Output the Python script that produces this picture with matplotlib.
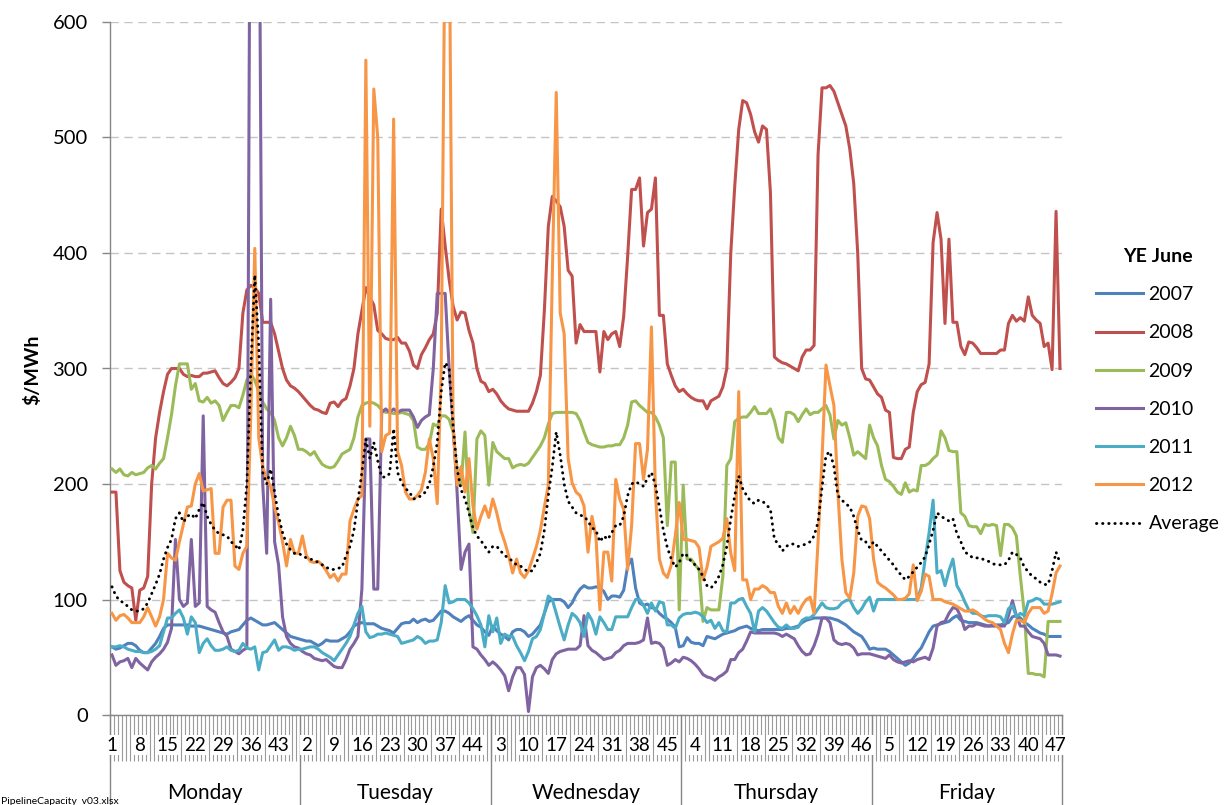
import numpy as np
import matplotlib
matplotlib.use("Agg")
import matplotlib.pyplot as plt
from matplotlib.transforms import blended_transform_factory

plt.rcParams['font.family'] = ['Lato', 'DejaVu Sans']

days = ["Monday", "Tuesday", "Wednesday", "Thursday", "Friday"]
periods_per_day = 48
series_names = ["2007", "2008", "2009", "2010", "2011", "2012", "Average"]

y2007 = [
    59, 57, 58, 60, 62, 62, 60, 56, 54, 54, 58, 62, 68, 75, 78, 78, 78, 78, 78, 78, 77, 77, 77, 76,
    75, 74, 73, 72, 71, 70, 72, 73, 74, 78, 82, 84, 82, 80, 78, 78, 79, 80, 77, 74, 71, 68, 67, 66,
    65, 64, 64, 62, 60, 62, 65, 64, 64, 64, 66, 68, 72, 77, 79, 80, 79, 79, 79, 77, 75, 74, 73, 71,
    75, 79, 80, 80, 83, 80, 82, 83, 81, 82, 86, 90, 90, 88, 85, 83, 81, 84, 86, 82, 78, 76, 72, 69,
    77, 73, 70, 68, 65, 72, 74, 74, 72, 68, 70, 74, 78, 88, 98, 100, 100, 100, 98, 93, 97, 104, 109, 112,
    110, 110, 111, 110, 107, 100, 103, 103, 102, 108, 129, 135, 110, 97, 95, 96, 93, 92, 88, 85, 83, 80, 76, 59,
    60, 67, 63, 62, 62, 60, 68, 67, 66, 68, 70, 71, 72, 73, 75, 76, 77, 75, 74, 73, 74, 74, 74, 74,
    74, 74, 75, 75, 76, 77, 80, 82, 83, 84, 84, 84, 84, 84, 83, 82, 80, 78, 75, 72, 70, 68, 63, 57,
    58, 57, 57, 57, 55, 52, 49, 46, 43, 45, 49, 54, 58, 65, 72, 77, 78, 79, 80, 81, 84, 86, 82, 81,
    80, 80, 80, 79, 78, 77, 78, 78, 78, 79, 80, 85, 86, 84, 80, 78, 75, 73, 71, 70, 68, 68, 68, 68,
]

y2008 = [
    193, 193, 125, 115, 112, 110, 82, 108, 110, 120, 200, 240, 262, 280, 295, 300, 300, 300, 295, 293, 294, 293, 293, 296,
    296, 297, 298, 292, 287, 285, 288, 292, 300, 348, 368, 372, 370, 365, 340, 340, 340, 330, 315, 300, 290, 285, 283, 280,
    276, 272, 268, 265, 264, 262, 261, 270, 271, 267, 272, 274, 285, 300, 330, 350, 370, 362, 355, 333, 330, 326, 325, 325,
    327, 322, 322, 315, 303, 300, 312, 318, 325, 330, 348, 438, 406, 377, 354, 342, 349, 348, 333, 322, 300, 289, 287, 280,
    282, 278, 272, 268, 265, 264, 263, 263, 263, 263, 270, 280, 294, 350, 423, 449, 445, 440, 423, 385, 380, 322, 338, 332,
    332, 332, 332, 297, 332, 325, 330, 332, 319, 345, 397, 455, 455, 465, 406, 435, 438, 465, 346, 346, 304, 294, 285, 280,
    282, 278, 275, 273, 272, 272, 265, 272, 274, 276, 284, 300, 400, 458, 507, 532, 530, 520, 505, 496, 510, 507, 452, 310,
    307, 305, 304, 302, 300, 298, 310, 316, 316, 320, 485, 543, 543, 545, 540, 530, 520, 510, 490, 460, 400, 300, 291, 290,
    284, 278, 275, 264, 262, 223, 222, 222, 230, 232, 262, 280, 286, 288, 304, 409, 435, 412, 339, 412, 340, 340, 319, 312,
    323, 322, 318, 313, 313, 313, 313, 313, 316, 316, 339, 346, 341, 344, 341, 362, 346, 342, 339, 319, 322, 299, 436, 300,
]

y2009 = [
    213, 210, 213, 208, 207, 210, 208, 209, 210, 214, 216, 213, 218, 222, 240, 260, 285, 304, 304, 304, 282, 287, 272, 271,
    275, 270, 272, 268, 255, 262, 268, 268, 266, 277, 290, 295, 290, 280, 271, 265, 262, 255, 240, 233, 240, 250, 242, 230,
    230, 228, 225, 228, 222, 217, 215, 214, 215, 220, 226, 228, 230, 240, 258, 268, 270, 271, 270, 268, 264, 262, 262, 261,
    261, 262, 261, 260, 255, 232, 230, 230, 235, 252, 250, 259, 259, 256, 245, 213, 199, 245, 178, 158, 239, 246, 242, 199,
    236, 228, 225, 222, 222, 214, 216, 217, 216, 218, 223, 228, 233, 240, 252, 261, 262, 262, 262, 262, 262, 261, 255, 245,
    236, 234, 233, 232, 232, 233, 233, 234, 234, 240, 251, 271, 272, 268, 265, 262, 262, 258, 251, 240, 164, 219, 219, 91,
    199, 135, 135, 130, 126, 81, 93, 91, 91, 91, 120, 216, 222, 254, 257, 258, 258, 262, 267, 261, 261, 261, 265, 255,
    240, 236, 262, 262, 260, 254, 260, 265, 260, 262, 262, 265, 268, 260, 239, 255, 251, 253, 240, 225, 228, 225, 222, 251,
    240, 233, 216, 204, 202, 198, 193, 191, 201, 193, 195, 194, 216, 216, 218, 222, 225, 246, 240, 229, 228, 228, 175, 172,
    164, 163, 163, 157, 165, 164, 165, 164, 138, 165, 165, 162, 155, 120, 88, 36, 36, 35, 35, 33, 81, 81, 81, 81,
]

y2010 = [
    52, 43, 46, 47, 49, 41, 49, 45, 42, 39, 46, 50, 53, 57, 63, 75, 152, 100, 94, 97, 152, 94, 97, 259,
    94, 91, 89, 80, 72, 68, 57, 55, 53, 56, 58, 900, 1100, 800, 200, 140, 360, 150, 130, 85, 68, 62, 59, 58,
    55, 53, 52, 49, 48, 47, 48, 45, 42, 41, 41, 48, 57, 62, 68, 109, 239, 239, 109, 109, 262, 265, 262, 265,
    262, 264, 264, 264, 258, 249, 255, 258, 260, 300, 365, 365, 365, 300, 251, 193, 126, 141, 148, 59, 57, 52, 48, 43,
    46, 43, 39, 34, 21, 33, 41, 41, 35, 3, 33, 41, 43, 40, 36, 48, 53, 55, 56, 57, 57, 57, 60, 86,
    60, 56, 54, 51, 48, 49, 50, 54, 56, 60, 62, 62, 62, 63, 65, 84, 62, 63, 62, 58, 43, 45, 48, 46,
    50, 49, 47, 44, 40, 35, 33, 32, 30, 33, 35, 38, 48, 48, 54, 57, 64, 72, 71, 71, 71, 71, 71, 71,
    70, 68, 70, 68, 66, 60, 55, 52, 53, 60, 70, 84, 84, 80, 65, 62, 61, 62, 61, 58, 52, 53, 53, 53,
    52, 51, 50, 49, 52, 48, 46, 45, 46, 47, 46, 48, 49, 50, 48, 58, 77, 80, 81, 88, 93, 92, 85, 74,
    77, 77, 79, 78, 77, 77, 77, 77, 77, 77, 86, 99, 86, 77, 77, 72, 68, 67, 66, 62, 52, 52, 52, 51,
]

y2011 = [
    59, 59, 60, 59, 57, 56, 55, 55, 54, 54, 55, 57, 60, 72, 84, 84, 88, 91, 84, 70, 85, 80, 54, 62,
    66, 60, 56, 56, 57, 59, 56, 55, 56, 62, 58, 57, 59, 39, 54, 55, 60, 65, 56, 59, 59, 58, 56, 57,
    57, 58, 59, 59, 57, 54, 52, 50, 47, 52, 57, 62, 68, 78, 88, 94, 72, 67, 68, 70, 70, 71, 70, 69,
    68, 62, 63, 64, 65, 68, 66, 62, 64, 64, 65, 80, 112, 97, 98, 100, 100, 100, 97, 92, 86, 78, 59, 86,
    72, 84, 62, 70, 68, 68, 60, 54, 47, 55, 66, 68, 74, 88, 103, 100, 88, 76, 65, 78, 88, 85, 80, 68,
    88, 82, 70, 85, 80, 74, 74, 85, 85, 85, 85, 93, 100, 100, 95, 88, 97, 90, 98, 97, 78, 78, 75, 84,
    87, 88, 88, 89, 88, 85, 80, 82, 75, 80, 73, 72, 97, 97, 100, 101, 94, 88, 72, 90, 93, 90, 85, 80,
    76, 75, 78, 75, 75, 76, 82, 84, 84, 87, 92, 97, 93, 92, 92, 93, 97, 99, 100, 93, 88, 92, 98, 102,
    90, 100, 100, 100, 100, 100, 100, 100, 100, 100, 100, 100, 110, 135, 158, 186, 123, 125, 112, 125, 135, 112, 106, 98,
    91, 88, 88, 86, 85, 86, 86, 86, 85, 80, 92, 95, 85, 88, 86, 98, 99, 101, 100, 96, 96, 96, 97, 98,
]

y2012 = [
    88, 82, 86, 87, 84, 80, 80, 80, 85, 93, 85, 77, 85, 100, 140, 136, 134, 150, 165, 180, 181, 200, 209, 194,
    195, 196, 140, 140, 180, 186, 186, 129, 126, 140, 146, 260, 404, 240, 215, 204, 198, 180, 167, 150, 129, 152, 140, 140,
    155, 138, 133, 132, 133, 130, 125, 119, 122, 116, 122, 122, 168, 178, 187, 190, 567, 250, 542, 500, 228, 242, 244, 516,
    228, 216, 193, 187, 187, 190, 195, 210, 239, 222, 183, 300, 700, 700, 250, 199, 215, 193, 222, 181, 161, 172, 181, 171,
    187, 175, 160, 150, 138, 123, 135, 123, 119, 125, 135, 146, 160, 180, 199, 380, 539, 348, 330, 222, 201, 193, 190, 181,
    141, 172, 155, 91, 141, 141, 116, 204, 187, 178, 126, 164, 235, 235, 204, 230, 336, 193, 135, 123, 119, 130, 155, 184,
    152, 152, 151, 150, 145, 117, 128, 146, 148, 150, 153, 170, 140, 125, 280, 117, 117, 100, 109, 109, 112, 110, 106, 106,
    94, 88, 97, 88, 94, 88, 95, 100, 102, 88, 150, 222, 303, 285, 268, 193, 135, 106, 101, 123, 172, 181, 180, 170,
    135, 115, 112, 110, 107, 104, 100, 100, 101, 105, 130, 99, 107, 122, 120, 100, 100, 100, 98, 97, 96, 94, 92, 90,
    90, 91, 89, 86, 83, 81, 80, 77, 74, 62, 54, 70, 82, 82, 80, 88, 93, 93, 93, 88, 90, 105, 123, 129,
]

y_avg = [
    111, 103, 99, 97, 94, 91, 90, 90, 92, 97, 105, 113, 122, 135, 145, 152, 170, 175, 167, 172, 174, 170, 178, 184,
    172, 165, 160, 157, 156, 155, 150, 147, 143, 160, 200, 300, 381, 320, 210, 200, 213, 193, 172, 158, 148, 143, 140, 140,
    138, 136, 135, 134, 132, 130, 128, 126, 126, 127, 128, 138, 146, 160, 185, 210, 239, 222, 236, 220, 206, 206, 209, 248,
    210, 201, 196, 193, 187, 188, 190, 193, 200, 215, 236, 280, 305, 300, 250, 213, 195, 187, 175, 162, 155, 151, 146, 141,
    146, 146, 142, 138, 136, 133, 130, 129, 126, 124, 125, 132, 140, 160, 190, 215, 245, 225, 200, 185, 180, 175, 173, 172,
    168, 162, 160, 150, 155, 152, 158, 164, 164, 172, 190, 200, 202, 200, 198, 205, 210, 199, 180, 160, 145, 135, 128, 132,
    140, 138, 133, 130, 126, 120, 112, 110, 114, 120, 130, 146, 170, 190, 207, 196, 190, 185, 183, 186, 185, 182, 178, 152,
    148, 142, 146, 148, 148, 146, 147, 148, 150, 155, 167, 197, 225, 228, 215, 190, 186, 183, 180, 172, 160, 151, 150, 145,
    150, 146, 142, 138, 134, 130, 125, 121, 117, 120, 124, 128, 132, 137, 148, 160, 175, 172, 170, 168, 170, 157, 150, 141,
    139, 136, 136, 136, 134, 133, 131, 130, 130, 130, 134, 141, 139, 136, 128, 124, 120, 118, 115, 113, 113, 125, 141, 132,
]

colors = ["#4F81BD", "#C0504D", "#9BBB59", "#8064A2", "#4BACC6", "#F79646"]

W, H = 1228, 805
fig = plt.figure(figsize=(W / 100, H / 100), dpi=100)
L, R, T, B = 110, 1062, 22, 715
ax = fig.add_axes([L / W, 1 - B / H, (R - L) / W, (B - T) / H])

n = len(days) * periods_per_day
x = np.arange(n) + 0.5

for name, ys, c in zip(series_names[:6], [y2007, y2008, y2009, y2010, y2011, y2012], colors):
    ax.plot(x, ys, color=c, lw=2.2, label=name, solid_joinstyle='round', zorder=3)
ax.plot(x, y_avg, color='black', lw=2.1, linestyle=(0, (0.1, 2.0)), dash_capstyle='round',
        label="Average", zorder=4)

ax.set_xlim(0, n)
ax.set_ylim(0, 600)
ax.set_yticks(range(0, 601, 100))
ax.tick_params(axis='y', labelsize=14.5, length=6, width=1, color='#868686', pad=10, labelcolor='#000000')
ax.grid(axis='y', color='#C4C4C4', linestyle=(0, (6, 4)), lw=1)
ax.set_axisbelow(True)
for s in ['top', 'right']:
    ax.spines[s].set_visible(False)
for s in ['left', 'bottom']:
    ax.spines[s].set_color('#868686')
    ax.spines[s].set_linewidth(1.0)

# category ticks
ax.set_xticks(np.arange(0, n + 1, 1))
ax.set_xticklabels([])
ax.tick_params(axis='x', length=33, width=0.8, color='#9A9A9A', direction='out')

tr = blended_transform_factory(ax.transData, ax.transAxes)
lab_y = -(745 - B) / (B - T)
for i in range(0, n, 7):
    ax.text(i + 0.5, lab_y, str(i % periods_per_day + 1), transform=tr, ha='center', va='center',
            fontsize=13.5, clip_on=False, zorder=5,
            bbox=dict(facecolor='white', edgecolor='none', pad=1.0))

sep_bottom = -(H - B) / (B - T)
for d in range(len(days) + 1):
    ax.plot([d * periods_per_day] * 2, [0, sep_bottom], transform=tr, color='#868686', lw=1,
            clip_on=False, zorder=2)
day_y = -(793 - B) / (B - T)
for d, name in enumerate(days):
    ax.text(d * periods_per_day + periods_per_day / 2, day_y, name, transform=tr, ha='center',
            va='center', fontsize=15, clip_on=False)

fig.text(32 / W, 1 - 370 / H, "$/MWh", rotation=90, ha='center', va='center', fontsize=14,
         fontweight='bold')
fig.text(1 / W, 1 - 801 / H, "PipelineCapacity_v03.xlsx", ha='left', va='center', fontsize=7.5)

leg = ax.legend(loc='upper left', bbox_to_anchor=(1096 / W, 1 - 248 / H), bbox_transform=fig.transFigure,
                frameon=False, title="YE June", prop={'size': 14}, handlelength=2.4,
                labelspacing=1.09, handletextpad=0.3, borderpad=0, borderaxespad=0)
leg.get_title().set_fontweight('bold')
leg.get_title().set_fontsize(14)

fig.savefig("out.png", dpi=100)
